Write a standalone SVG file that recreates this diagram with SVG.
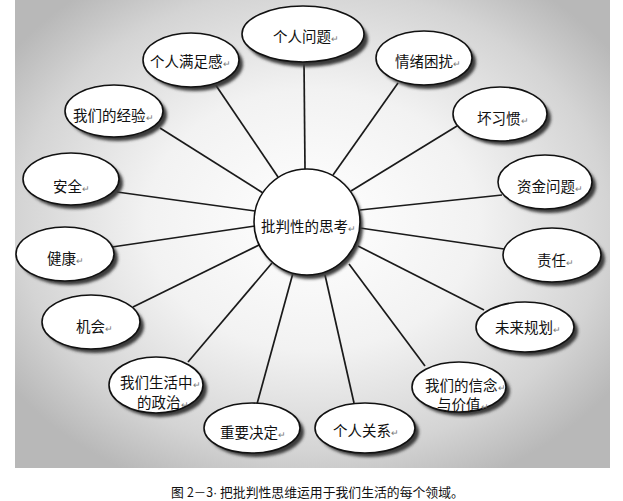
<svg xmlns="http://www.w3.org/2000/svg" width="623" height="501" viewBox="0 0 623 501">
<defs>
<radialGradient id="bg" cx="0.5" cy="0.47" r="0.62">
<stop offset="0" stop-color="#ffffff"/>
<stop offset="0.45" stop-color="#f2f2f2"/>
<stop offset="0.8" stop-color="#d4d4d4"/>
<stop offset="1" stop-color="#b8b8b8"/>
</radialGradient>
<filter id="blur" x="-20%" y="-20%" width="140%" height="140%"><feGaussianBlur stdDeviation="1.6"/></filter>
</defs>
<style>
.sh{fill:#3a3a3a;filter:url(#blur)}
.el{fill:#ffffff;stroke:#111;stroke-width:1.6}
.t{font-family:"Noto Sans CJK SC","Noto Sans",sans-serif;font-size:14.5px;fill:#111}
.m{font-size:9px;fill:#777}
.ln{stroke:#1a1a1a;stroke-width:1.7;fill:none}
.cap{font-family:"Noto Sans CJK SC","Noto Sans",sans-serif;font-size:12.8px;fill:#111}
.dot{font-family:"Liberation Sans",sans-serif;font-size:12.8px;fill:#111}
</style>
<rect x="0" y="0" width="623" height="501" fill="#ffffff"/>
<rect x="15" y="0" width="595" height="468" fill="url(#bg)"/>
<g id="connectors">
<line class="ln" x1="304" y1="62" x2="305" y2="169"/>
<line class="ln" x1="215" y1="84" x2="278" y2="177"/>
<line class="ln" x1="160" y1="128" x2="263" y2="193"/>
<line class="ln" x1="117" y1="192" x2="255" y2="211"/>
<line class="ln" x1="112" y1="247" x2="255" y2="226"/>
<line class="ln" x1="133" y1="307" x2="259" y2="245"/>
<line class="ln" x1="188" y1="362" x2="272" y2="263"/>
<line class="ln" x1="257" y1="404" x2="293" y2="273"/>
<line class="ln" x1="354" y1="403" x2="325" y2="275"/>
<line class="ln" x1="425" y1="366" x2="349" y2="264"/>
<line class="ln" x1="484" y1="310" x2="358" y2="246"/>
<line class="ln" x1="504" y1="249" x2="360" y2="228"/>
<line class="ln" x1="502" y1="195" x2="360" y2="210"/>
<line class="ln" x1="457" y1="126" x2="351" y2="191"/>
<line class="ln" x1="398" y1="83" x2="333" y2="175"/>
</g>
<g id="center">
<ellipse class="sh" cx="310" cy="226" rx="53" ry="53"/>
<ellipse class="el" cx="307" cy="222" rx="53" ry="53"/>
<text class="t" x="261" y="232">批判性的思考<tspan class="m">↵</tspan></text>
</g>
<g id="n-gerenwenti">
<ellipse class="sh" cx="307" cy="39" rx="61" ry="28"/>
<ellipse class="el" cx="303" cy="34" rx="61" ry="28"/>
<text class="t" x="273" y="42">个人问题<tspan class="m">↵</tspan></text>
</g>
<g id="n-manzugan">
<ellipse class="sh" cx="195" cy="64" rx="48" ry="27"/>
<ellipse class="el" cx="191" cy="60" rx="48" ry="27"/>
<text class="t" x="150" y="67">个人满足感<tspan class="m">↵</tspan></text>
</g>
<g id="n-jingyan">
<ellipse class="sh" cx="118" cy="115" rx="49" ry="26"/>
<ellipse class="el" cx="114" cy="111" rx="49" ry="26"/>
<text class="t" x="73" y="121">我们的经验<tspan class="m">↵</tspan></text>
</g>
<g id="n-anquan">
<ellipse class="sh" cx="75" cy="183" rx="48" ry="26"/>
<ellipse class="el" cx="71" cy="179" rx="48" ry="26"/>
<text class="t" x="53" y="192">安全<tspan class="m">↵</tspan></text>
</g>
<g id="n-jiankang">
<ellipse class="sh" cx="69" cy="258" rx="49" ry="27"/>
<ellipse class="el" cx="65" cy="254" rx="49" ry="27"/>
<text class="t" x="47" y="264">健康<tspan class="m">↵</tspan></text>
</g>
<g id="n-jihui">
<ellipse class="sh" cx="95" cy="326" rx="49" ry="27"/>
<ellipse class="el" cx="91" cy="322" rx="49" ry="27"/>
<text class="t" x="76" y="332">机会<tspan class="m">↵</tspan></text>
</g>
<g id="n-zhengzhi">
<ellipse class="sh" cx="160" cy="389" rx="47" ry="28"/>
<ellipse class="el" cx="156" cy="385" rx="47" ry="28"/>
<text class="t" x="120" y="388">我们生活中<tspan class="m">↵</tspan></text>
<text class="t" x="137" y="408">的政治<tspan class="m">↵</tspan></text>
</g>
<g id="n-juedings">
<ellipse class="sh" cx="256" cy="432" rx="48" ry="25"/>
<ellipse class="el" cx="252" cy="428" rx="48" ry="25"/>
<text class="t" x="220" y="438">重要决定<tspan class="m">↵</tspan></text>
</g>
<g id="n-guanxi">
<ellipse class="sh" cx="369" cy="432" rx="50" ry="25"/>
<ellipse class="el" cx="365" cy="428" rx="50" ry="25"/>
<text class="t" x="333" y="436">个人关系<tspan class="m">↵</tspan></text>
</g>
<g id="n-xinnian">
<ellipse class="sh" cx="463" cy="391" rx="47" ry="25"/>
<ellipse class="el" cx="459" cy="387" rx="47" ry="25"/>
<text class="t" x="425" y="391">我们的信念<tspan class="m">↵</tspan></text>
<text class="t" x="437" y="410">与价值<tspan class="m">↵</tspan></text>
</g>
<g id="n-guihua">
<ellipse class="sh" cx="529" cy="331" rx="49" ry="25"/>
<ellipse class="el" cx="525" cy="327" rx="49" ry="25"/>
<text class="t" x="495" y="333">未来规划<tspan class="m">↵</tspan></text>
</g>
<g id="n-zeren">
<ellipse class="sh" cx="556" cy="259" rx="49" ry="27"/>
<ellipse class="el" cx="552" cy="255" rx="49" ry="27"/>
<text class="t" x="537" y="266">责任<tspan class="m">↵</tspan></text>
</g>
<g id="n-zijin">
<ellipse class="sh" cx="549" cy="186" rx="47" ry="27"/>
<ellipse class="el" cx="545" cy="182" rx="47" ry="27"/>
<text class="t" x="517" y="192">资金问题<tspan class="m">↵</tspan></text>
</g>
<g id="n-xiguan">
<ellipse class="sh" cx="504" cy="118" rx="47" ry="27"/>
<ellipse class="el" cx="500" cy="114" rx="47" ry="27"/>
<text class="t" x="477" y="124">坏习惯<tspan class="m">↵</tspan></text>
</g>
<g id="n-qingxu">
<ellipse class="sh" cx="428" cy="62" rx="48" ry="27"/>
<ellipse class="el" cx="424" cy="58" rx="48" ry="27"/>
<text class="t" x="395" y="67">情绪困扰<tspan class="m">↵</tspan></text>
</g>
<text class="cap" x="171" y="497">图</text>
<text class="cap" x="187" y="497" textLength="26" lengthAdjust="spacingAndGlyphs">2－3</text>
<text class="dot" x="213" y="497">·</text>
<text class="cap" x="220" y="497" textLength="231" lengthAdjust="spacingAndGlyphs">把批判性思维运用于我们生活的每个领域</text>
<text class="cap" x="451" y="497">。</text>
</svg>
